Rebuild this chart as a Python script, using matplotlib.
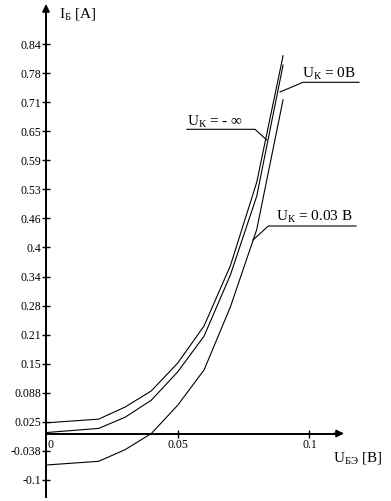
import matplotlib
matplotlib.use('Agg')
import matplotlib.pyplot as plt

plt.rcParams['font.family'] = ['Liberation Serif', 'DejaVu Serif']
plt.rcParams['mathtext.fontset'] = 'custom'
plt.rcParams['mathtext.rm'] = 'Liberation Serif'
plt.rcParams['mathtext.it'] = 'Liberation Serif'

# input characteristics I_B(U_BE)
u_be = [0.0, 0.02, 0.03, 0.04, 0.05, 0.06, 0.07, 0.08, 0.09]
i_b_minf = [0.023, 0.031, 0.057, 0.092, 0.152, 0.232, 0.362, 0.542, 0.815]
i_b_0 = [0.002, 0.011, 0.035, 0.072, 0.133, 0.210, 0.342, 0.512, 0.795]
i_b_003 = [-0.068, -0.060, -0.035, 0.000, 0.061, 0.137, 0.273, 0.440, 0.720]

y_ticks = [-0.1 + k * 0.94 / 15 for k in range(16)]
y_tick_labels = ['-0.1', '-0.038', '0.025', '0.088', '0.15', '0.21', '0.28',
                 '0.34', '0.4', '0.46', '0.53', '0.59', '0.65', '0.71',
                 '0.78', '0.84']
x_ticks = [0.0, 0.05, 0.1]
x_tick_labels = ['0', '0.05', '0.1']

# pixel -> data helpers (origin of the axes at px 46, 433.5)
SX = 0.05 / 131.7
SY = 0.94 / (480 - 44.3)


def px(x, y):
    return (x - 46) * SX, (433.5 - y) * SY


fig = plt.figure(figsize=(3.91, 5.01), dpi=100)
ax = fig.add_axes([0, 0, 1, 1])
x0, y1 = px(0, 0)
x1, y0 = px(391, 501)
ax.set_xlim(x0, x1)
ax.set_ylim(y0, y1)

for s in ['top', 'right']:
    ax.spines[s].set_visible(False)
ax.spines['left'].set_position(('data', 0))
ax.spines['bottom'].set_position(('data', 0))
ax.spines['left'].set_bounds(px(0, 497)[1], px(0, 12)[1])
ax.spines['bottom'].set_bounds(0, px(336, 0)[0])
for s in ['left', 'bottom']:
    ax.spines[s].set_linewidth(1.4)

# arrows at the axis ends
ax.annotate('', xy=(0, px(0, 4)[1]), xytext=(0, px(0, 14)[1]),
            arrowprops=dict(arrowstyle='-|>', color='black', lw=1.2,
                            mutation_scale=11, shrinkA=0, shrinkB=0))
ax.annotate('', xy=(px(344, 0)[0], 0), xytext=(px(334, 0)[0], 0),
            arrowprops=dict(arrowstyle='-|>', color='black', lw=1.2,
                            mutation_scale=11, shrinkA=0, shrinkB=0))

ax.set_yticks(y_ticks)
ax.set_yticklabels(y_tick_labels)
ax.set_xticks(x_ticks[1:])
ax.set_xticklabels(x_tick_labels[1:])
ax.tick_params(axis='both', direction='inout', length=6, width=1,
               labelsize=8.5, colors='black')
ax.tick_params(axis='y', pad=0.6)
ax.tick_params(axis='x', pad=1.0)
# the origin label sits just right of the y axis
ax.text(x_ticks[0] + 2 * SX, px(0, 447.5)[1], x_tick_labels[0],
        fontsize=8.5, va='baseline', ha='left')

ax.plot(u_be, i_b_minf, color='black', lw=0.8)
ax.plot(u_be, i_b_0, color='black', lw=0.8)
ax.plot(u_be, i_b_003, color='black', lw=0.8)

# axis labels
ax.text(*px(59, 17), r'$\mathrm{I_{Б}}$ [A]', fontsize=11, va='baseline')
ax.text(*px(333, 462), r'$\mathrm{U_{БЭ}}$ [B]', fontsize=11, va='baseline')

# curve labels with leaders
ax.text(*px(302, 78), r'$\mathrm{U_{К}}$ = 0B', fontsize=11, va='baseline')
ax.plot(*zip(px(280, 92), px(303, 82.3), px(359, 82.3)), color='black', lw=0.8)

ax.text(*px(187, 126), r'$\mathrm{U_{К}}$ = - ∞', fontsize=11, va='baseline')
ax.plot(*zip(px(187, 129.3), px(255, 129.3), px(266.7, 140)), color='black', lw=0.8)

ax.text(*px(276, 221), r'$\mathrm{U_{К}}$ = 0.03 B', fontsize=11, va='baseline')
ax.plot(*zip(px(253, 240), px(268.3, 226), px(356, 226)), color='black', lw=0.8)

fig.savefig('out.png', dpi=100)
